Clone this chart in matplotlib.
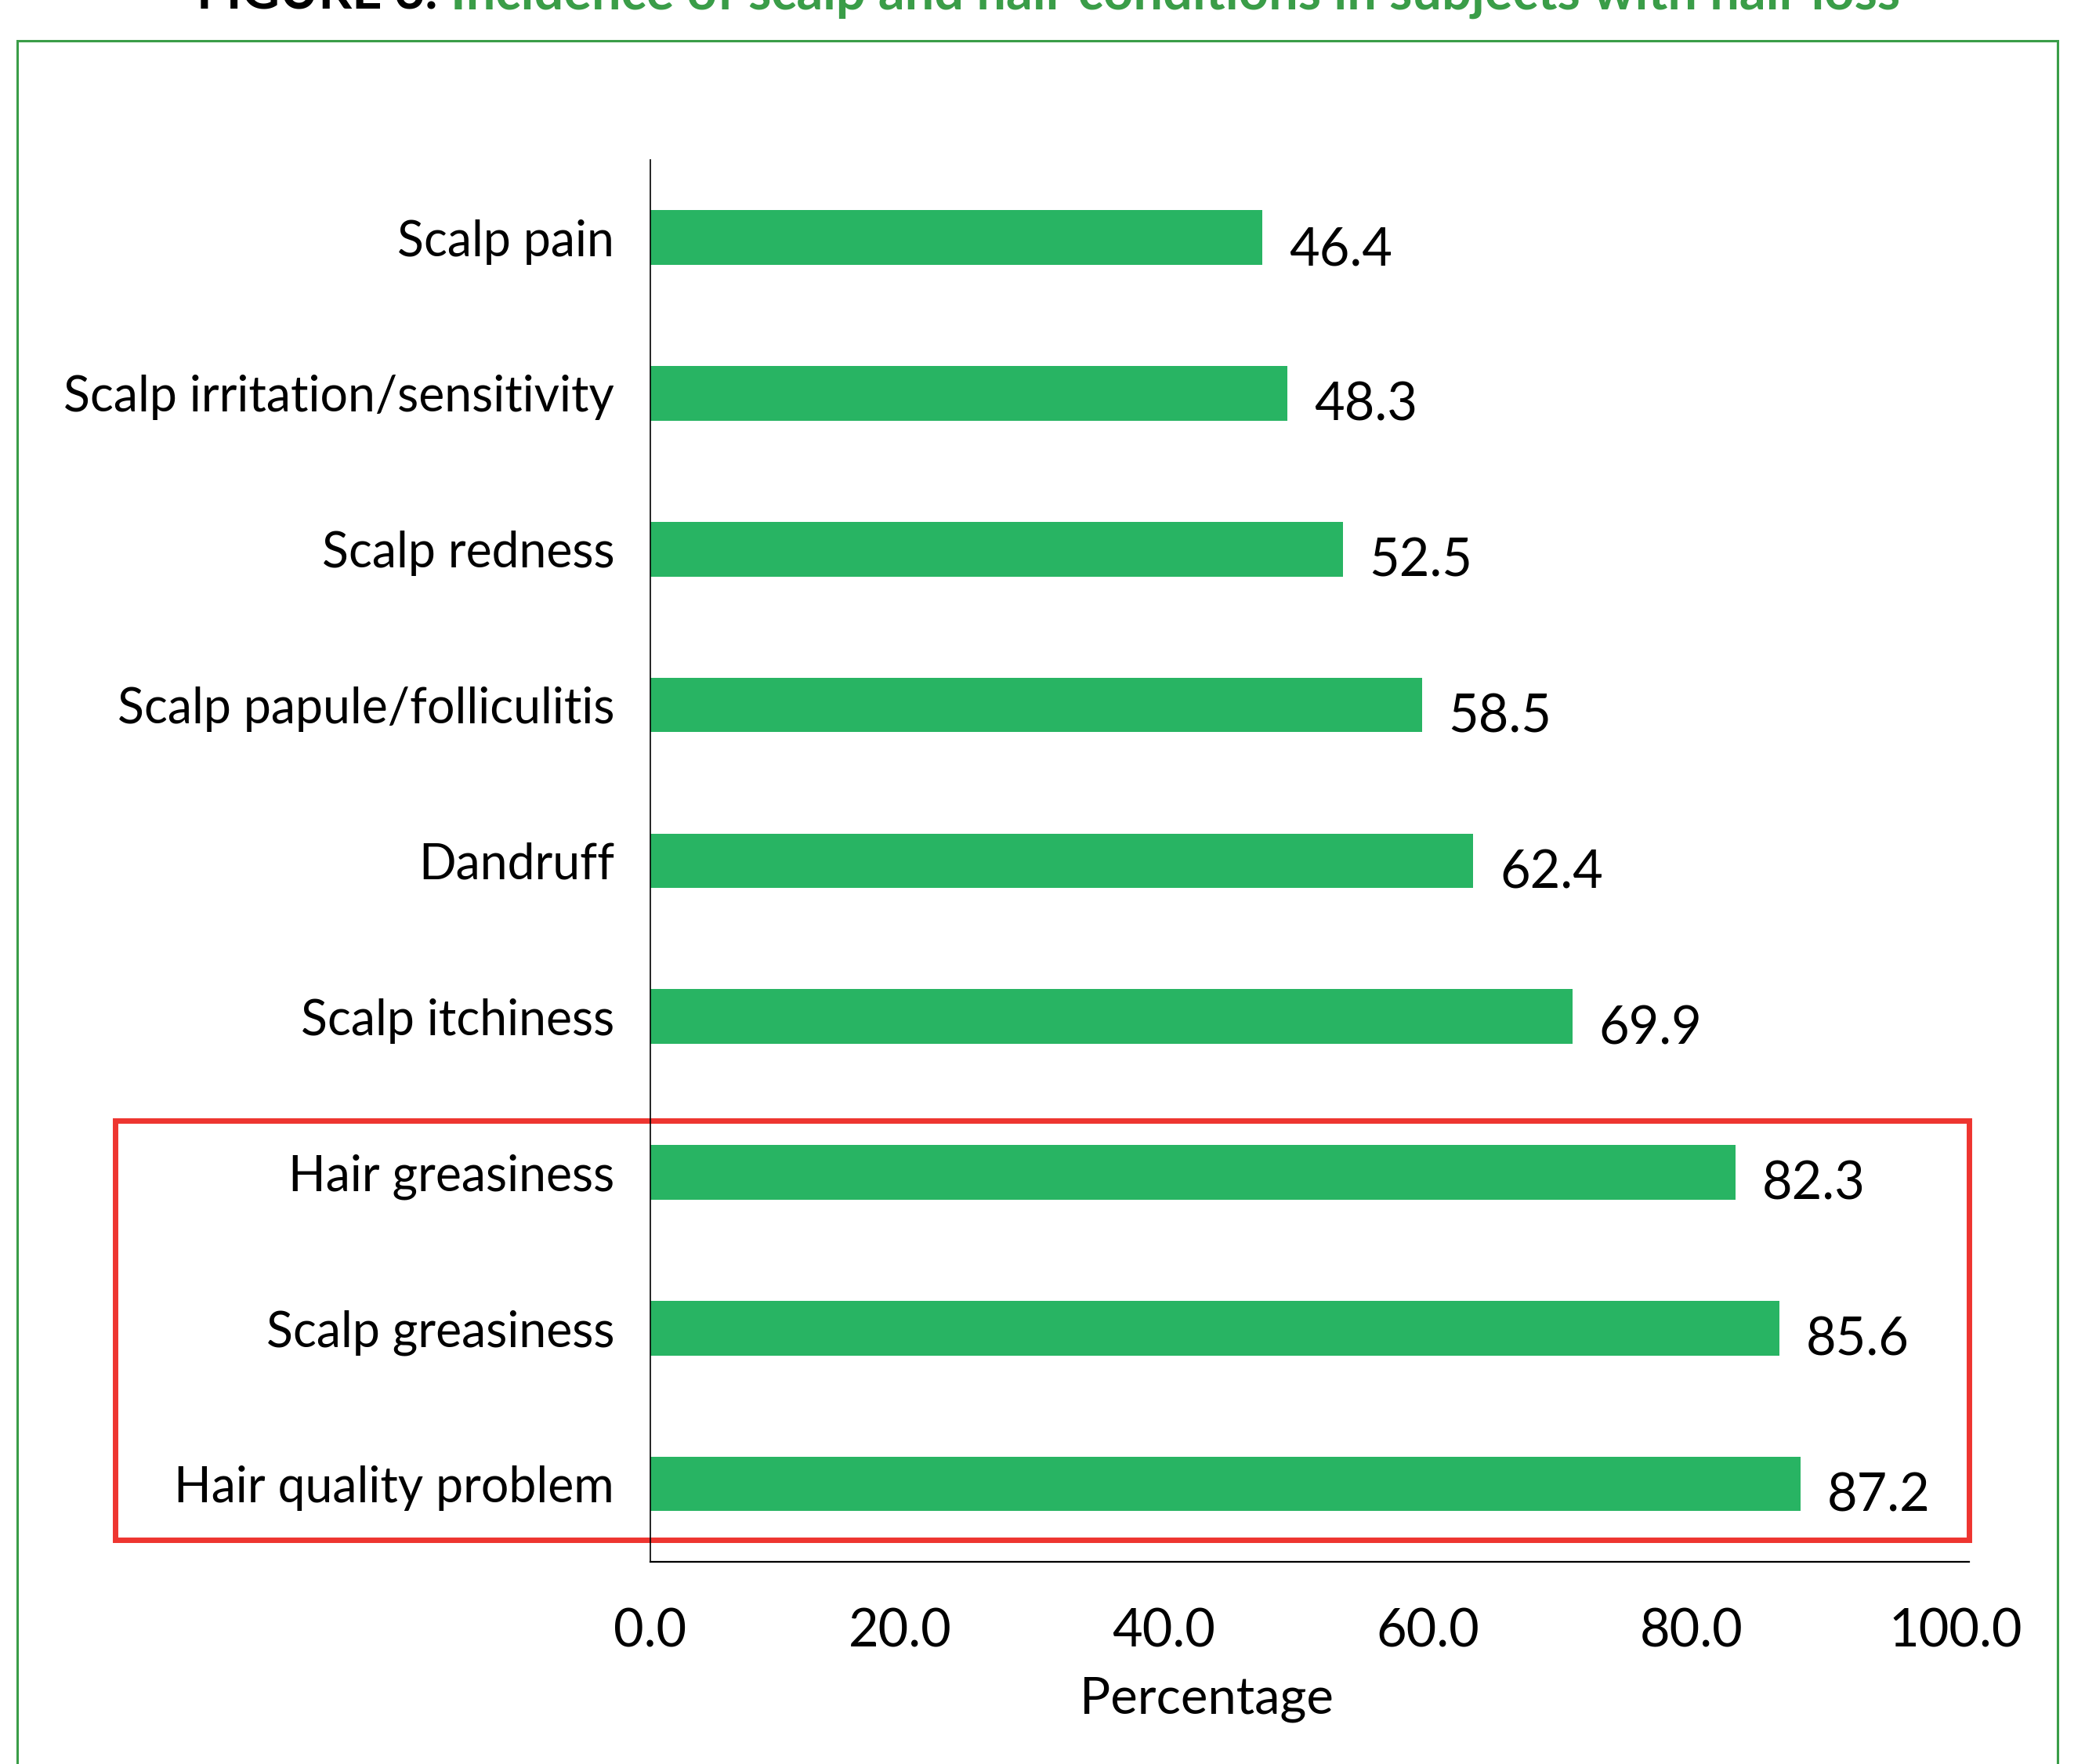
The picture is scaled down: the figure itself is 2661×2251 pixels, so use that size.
import matplotlib.pyplot as plt
from matplotlib.patches import Rectangle
import matplotlib.transforms as mtransforms

plt.rcParams['font.family'] = ['Lato', 'DejaVu Sans']

# Données
conditions = ['Scalp pain', 'Scalp irritation/sensitivity', 'Scalp redness',
              'Scalp papule/folliculitis', 'Dandruff', 'Scalp itchiness',
              'Hair greasiness', 'Scalp greasiness', 'Hair quality problem']
pourcentages = [46.4, 48.3, 52.5, 58.5, 62.4, 69.9, 82.3, 85.6, 87.2]
ticks_x = [0, 20, 40, 60, 80, 100]
lignes_surlignees = [6, 7, 8]

vert_barre = '#28B463'
vert_titre = '#3A9D48'
rouge = '#EE3530'
taille_cat = 45
taille_num = 48

fig = plt.figure(figsize=(26.61, 22.51), dpi=100)
ax = fig.add_axes([0.3119, 0.1146, 0.6326, 0.7949])

y = list(range(len(conditions)))
ax.barh(y, pourcentages, height=0.35, color=vert_barre)
for yi, v in zip(y, pourcentages):
    ax.text(v + 2.0, yi + 0.08, f'{v:.1f}', va='center', ha='left', fontsize=taille_num)

ax.set_xlim(0, 100)
ax.set_ylim(len(conditions) - 0.5, -0.5)
ax.set_yticks(y)
ax.set_yticklabels(conditions, fontsize=taille_cat)
ax.set_xticks(ticks_x)
ax.set_xticklabels([f'{t:.1f}' for t in ticks_x], fontsize=taille_num)
ax.tick_params(axis='y', length=0, pad=33)
ax.tick_params(axis='x', length=0, pad=42)
ax.set_xlabel('Percentage', fontsize=47)
ax.xaxis.set_label_coords(0.422, -0.098)
ax.xaxis.label.set_va('center')

# décalage léger des étiquettes de l'axe x, comme dans l'original
for lab in ax.get_xticklabels()[1:]:
    lab.set_transform(lab.get_transform() + mtransforms.ScaledTranslation(-0.18, 0, fig.dpi_scale_trans))

for s in ['top', 'right']:
    ax.spines[s].set_visible(False)
ax.spines['left'].set_linewidth(1.2)
ax.spines['bottom'].set_linewidth(1.6)

# Cadre rouge autour des trois dernières catégories
trans = mtransforms.blended_transform_factory(ax.transAxes, ax.transData)
y0 = min(lignes_surlignees) - 0.33
y1 = max(lignes_surlignees) + 0.36
rect = Rectangle((-0.406, y0), 1.406, y1 - y0, transform=trans, fill=False,
                 edgecolor=rouge, linewidth=5, clip_on=False)
ax.add_patch(rect)

# Cadre vert de la figure
cadre = Rectangle((0.0083, -0.05), 0.9787, 1.027, transform=fig.transFigure,
                  fill=False, edgecolor=vert_titre, linewidth=2.2, clip_on=False)
fig.patches.append(cadre)

# Titre (coupé en haut comme dans l'original)
t1 = fig.text(0.0944, 0.9947, 'FIGURE 3. ', fontsize=48, fontweight='bold',
              color='black', va='baseline', ha='left')
fig.canvas.draw()
bb = t1.get_window_extent()
x2 = bb.x1 / fig.bbox.width
fig.text(x2, 0.9947, 'Incidence of scalp and hair conditions in subjects with hair loss',
         fontsize=48, fontweight='bold', color=vert_titre, va='baseline', ha='left')

fig.savefig('out.png', dpi=100)
